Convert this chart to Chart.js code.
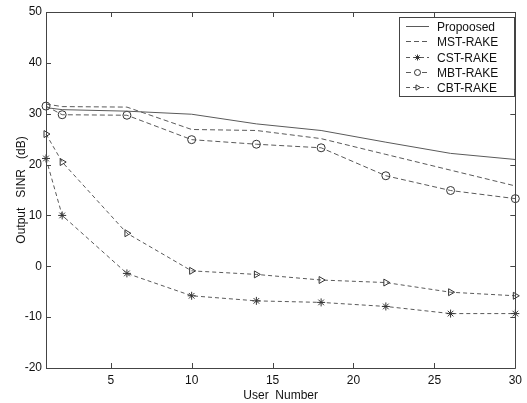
<!DOCTYPE html>
<html>
<head>
<meta charset="utf-8">
<script src="https://cdn.jsdelivr.net/npm/chart.js@4.4.1/dist/chart.umd.min.js"></script>
<style>
  body { margin: 0; background: #fff; }
  #wrap { width: 527px; height: 403px; }
</style>
</head>
<body>
<div id="wrap"><canvas id="sinrChart" width="527" height="403"></canvas></div>
<script>
var users = [1, 2, 6, 10, 14, 18, 22, 26, 30];
var proposed = [31.2, 30.8, 30.5, 29.9, 28.0, 26.7, 24.4, 22.2, 21.0];
var mstRake = [31.9, 31.4, 31.3, 26.9, 26.7, 25.1, 22.0, 18.9, 15.8];
var cstRake = [21.2, 10.0, -1.4, -5.8, -6.8, -7.1, -7.9, -9.3, -9.3];
var mbtRake = [31.5, 29.8, 29.7, 24.9, 24.0, 23.3, 17.8, 14.9, 13.3];
var cbtRake = [26.0, 20.5, 6.5, -0.9, -1.6, -2.7, -3.2, -5.1, -5.8];
var seriesNames = ['Propoosed', 'MST-RAKE', 'CST-RAKE', 'MBT-RAKE', 'CBT-RAKE'];
var xTicks = [5, 10, 15, 20, 25, 30];
var yTicks = [-20, -10, 0, 10, 20, 30, 40, 50];

var lineColor = '#5a5a5a';
var fontFamily = '"Liberation Sans", Arial, sans-serif';

function toPoints(vals) {
    return vals.map(function (v, i) { return { x: users[i], y: v }; });
}

function makeSet(label, vals, dash, style, rot) {
    return {
        label: label,
        data: toPoints(vals),
        borderColor: lineColor,
        borderWidth: 1,
        borderDash: dash,
        pointStyle: style || false,
        pointRotation: rot || 0,
        pointRadius: style ? 4 : 0,
        pointBorderColor: '#333',
        pointBackgroundColor: 'rgba(0,0,0,0)',
        pointBorderWidth: 1,
        tension: 0,
        fill: false,
        clip: false
    };
}

// box, inward ticks on all four sides, and the legend
var matlabFrame = {
    id: 'matlabFrame',
    afterDraw: function (chart) {
        var ctx = chart.ctx;
        var a = chart.chartArea;
        var xs = chart.scales.x, ys = chart.scales.y;
        ctx.save();
        ctx.setLineDash([]);
        ctx.strokeStyle = '#444';
        ctx.lineWidth = 1;
        ctx.beginPath();
        xTicks.forEach(function (t) {
            var px = Math.round(xs.getPixelForValue(t)) + 0.5;
            ctx.moveTo(px, a.bottom); ctx.lineTo(px, a.bottom - 5);
            ctx.moveTo(px, a.top); ctx.lineTo(px, a.top + 5);
        });
        yTicks.forEach(function (t) {
            var py = Math.round(ys.getPixelForValue(t)) + 0.5;
            ctx.moveTo(a.left, py); ctx.lineTo(a.left + 5, py);
            ctx.moveTo(a.right, py); ctx.lineTo(a.right - 5, py);
        });
        ctx.rect(Math.round(a.left) + 0.5, Math.round(a.top) + 0.5,
            Math.round(a.right - a.left), Math.round(a.bottom - a.top));
        ctx.stroke();

        // legend box
        var bx = 399.5, by = 17.5, bw = 115, bh = 79;
        ctx.fillStyle = '#fff';
        ctx.fillRect(bx, by, bw, bh);
        ctx.strokeRect(bx, by, bw, bh);
        ctx.font = '12px ' + fontFamily;
        ctx.textBaseline = 'middle';
        chart.data.datasets.forEach(function (ds, i) {
            var cy = Math.round(25.7 + i * 15.4) + 0.5;
            ctx.strokeStyle = lineColor;
            ctx.setLineDash(ds.borderDash);
            ctx.beginPath();
            ctx.moveTo(406, cy); ctx.lineTo(429, cy);
            ctx.stroke();
            ctx.setLineDash([]);
            if (ds.pointStyle) {
                ctx.strokeStyle = '#333';
                ctx.fillStyle = '#fff';
                Chart.helpers.drawPoint(ctx, {
                    pointStyle: ds.pointStyle, rotation: ds.pointRotation,
                    radius: 3, borderWidth: 1
                }, 417.5, cy);
            }
            ctx.fillStyle = '#111';
            ctx.fillText(ds.label, 437, cy + 1);
        });
        ctx.restore();
    }
};

var sinrChart = new Chart(document.getElementById('sinrChart').getContext('2d'), {
    type: 'line',
    data: {
        datasets: [
            makeSet(seriesNames[0], proposed, []),
            makeSet(seriesNames[1], mstRake, [5, 3]),
            makeSet(seriesNames[2], cstRake, [4, 3], 'star'),
            makeSet(seriesNames[3], mbtRake, [5, 3], 'circle'),
            makeSet(seriesNames[4], cbtRake, [4, 3], 'triangle', 90)
        ]
    },
    options: {
        responsive: false,
        animation: false,
        devicePixelRatio: 1,
        layout: { padding: { left: 0, right: 10, top: 12, bottom: 0 } },
        plugins: { legend: { display: false }, tooltip: { enabled: false } },
        scales: {
            x: {
                type: 'linear',
                min: 1,
                max: 30,
                afterBuildTicks: function (scale) {
                    scale.ticks = xTicks.map(function (v) { return { value: v }; });
                },
                afterFit: function (scale) { scale.height = 35; },
                grid: { display: false, drawTicks: false },
                border: { display: false },
                ticks: { color: '#111', font: { family: fontFamily, size: 12 }, padding: 5, maxRotation: 0 },
                title: { display: true, text: 'User  Number', color: '#111', font: { family: fontFamily, size: 12 }, padding: { top: 0, bottom: 0 } }
            },
            y: {
                min: -20,
                max: 50,
                afterBuildTicks: function (scale) {
                    scale.ticks = yTicks.map(function (v) { return { value: v }; });
                },
                afterFit: function (scale) { scale.width = 46; },
                grid: { display: false, drawTicks: false },
                border: { display: false },
                ticks: { color: '#111', font: { family: fontFamily, size: 12 }, padding: 4 },
                title: { display: true, text: 'Output   SINR   (dB)', color: '#111', font: { family: fontFamily, size: 12 }, padding: { top: 14, bottom: 0 } }
            }
        }
    },
    plugins: [matlabFrame]
});
</script>
</body>
</html>
